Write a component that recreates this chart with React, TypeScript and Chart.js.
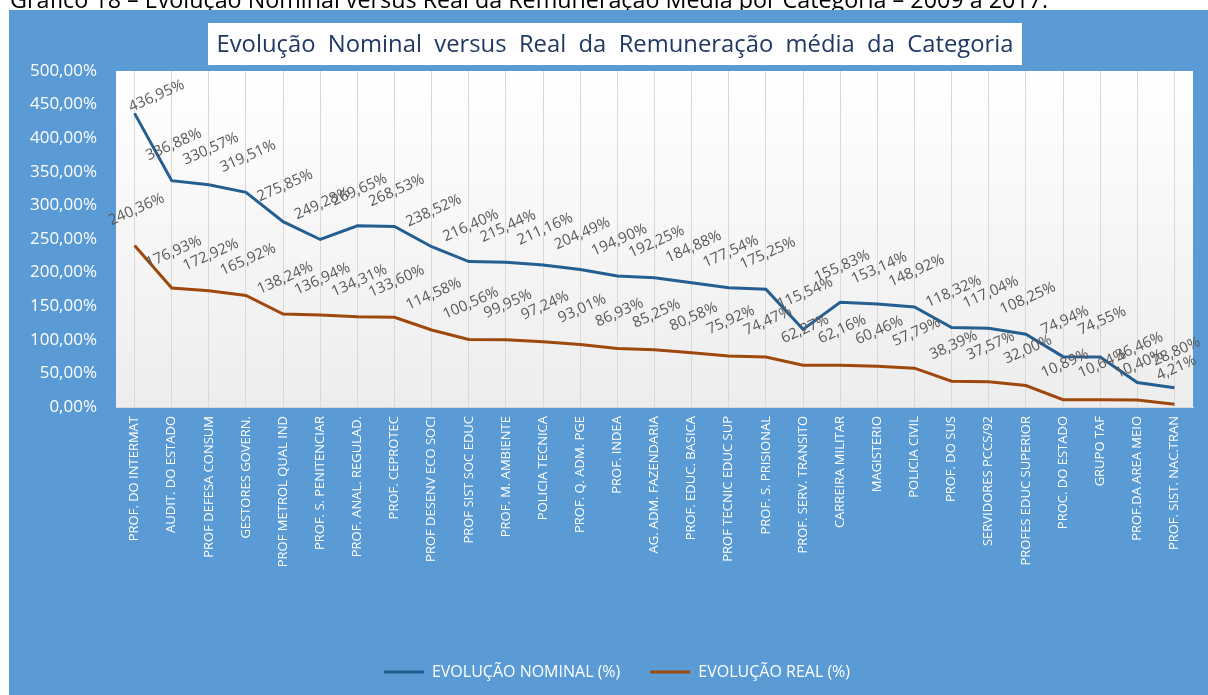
import React, { useEffect, useRef } from "react";
import { Chart, registerables } from "chart.js";

Chart.register(...registerables);

const categories = [
  "PROF. DO INTERMAT",
  "AUDIT. DO ESTADO",
  "PROF DEFESA CONSUM",
  "GESTORES GOVERN.",
  "PROF METROL QUAL IND",
  "PROF. S. PENITENCIAR",
  "PROF. ANAL. REGULAD.",
  "PROF. CEPROTEC",
  "PROF DESENV ECO SOCI",
  "PROF SIST SOC EDUC",
  "PROF. M. AMBIENTE",
  "POLICIA TECNICA",
  "PROF. Q. ADM. PGE",
  "PROF. INDEA",
  "AG. ADM. FAZENDARIA",
  "PROF. EDUC. BASICA",
  "PROF TECNIC EDUC SUP",
  "PROF. S. PRISIONAL",
  "PROF. SERV. TRANSITO",
  "CARREIRA MILITAR",
  "MAGISTERIO",
  "POLICIA CIVIL",
  "PROF. DO SUS",
  "SERVIDORES PCCS/92",
  "PROFES EDUC SUPERIOR",
  "PROC. DO ESTADO",
  "GRUPO TAF",
  "PROF.DA AREA MEIO",
  "PROF. SIST. NAC.TRAN",
];

const nominal = [
  436.95, 336.88, 330.57, 319.51, 275.85, 249.28, 269.65, 268.53, 238.52,
  216.4, 215.44, 211.16, 204.49, 194.9, 192.25, 184.88, 177.54, 175.25,
  115.54, 155.83, 153.14, 148.92, 118.32, 117.04, 108.25, 74.94, 74.55,
  36.46, 28.8,
];

const real = [
  240.36, 176.93, 172.92, 165.92, 138.24, 136.94, 134.31, 133.6, 114.58,
  100.56, 99.95, 97.24, 93.01, 86.93, 85.25, 80.58, 75.92, 74.47, 62.27,
  62.16, 60.46, 57.79, 38.39, 37.57, 32.0, 10.89, 10.64, 10.4, 4.21,
];

const seriesNames = ["EVOLUÇÃO NOMINAL (%)", "EVOLUÇÃO REAL (%)"];
const yMin = 0;
const yMax = 500;
const yStep = 50;

const chartTitle = "Evolução  Nominal  versus  Real  da  Remuneração  média  da  Categoria";
const caption =
  "Gráfico 18 – Evolução Nominal versus Real da Remuneração Média por Categoria – 2009 a 2017.";

const FONT = '"Open Sans", "Noto Sans", sans-serif';

const fmt = (v: number) => v.toFixed(2).replace(".", ",") + "%";

const decorPlugin = {
  id: "decor",
  afterLayout(chart: any) {
    if (chart.legend) {
      chart.legend.left += 16;
      chart.legend.right += 16;
    }
  },
  beforeDraw(chart: any) {
    const { ctx, chartArea, width, height } = chart;
    ctx.save();
    ctx.fillStyle = "#5B9BD5";
    ctx.fillRect(0, 0, width, height);
    const g = ctx.createLinearGradient(0, chartArea.top, 0, chartArea.bottom);
    g.addColorStop(0, "#FFFFFF");
    g.addColorStop(1, "#EDEDED");
    ctx.fillStyle = g;
    ctx.fillRect(
      chartArea.left,
      chartArea.top,
      chartArea.right - chartArea.left,
      chartArea.bottom - chartArea.top
    );
    // title box
    ctx.fillStyle = "#FFFFFF";
    ctx.fillRect(199, 13, 814, 42);
    ctx.fillStyle = "#203864";
    ctx.font = `23.8px ${FONT}`;
    ctx.textAlign = "center";
    ctx.textBaseline = "middle";
    ctx.fillText(chartTitle, 606, 35);
    ctx.restore();
  },
  afterDatasetsDraw(chart: any) {
    const { ctx, chartArea } = chart;
    ctx.save();
    ctx.font = `15px ${FONT}`;
    ctx.fillStyle = "#595959";
    ctx.textAlign = "center";
    ctx.textBaseline = "middle";
    chart.data.datasets.forEach((ds: any, di: number) => {
      const meta = chart.getDatasetMeta(di);
      meta.data.forEach((pt: any, i: number) => {
        const v = ds.data[i];
        let y = pt.y - 36;
        let x = pt.x + 2;
        const minY = chartArea.top + 25;
        if (y < minY) {
          y = minY;
          x = pt.x + 22;
        }
        ctx.save();
        ctx.translate(x, y);
        ctx.rotate((-24 * Math.PI) / 180);
        ctx.fillText(fmt(v), 0, 0);
        ctx.restore();
      });
    });
    ctx.restore();
  },
};

export default function App() {
  const ref = useRef<HTMLCanvasElement | null>(null);

  useEffect(() => {
    if (!ref.current) return;
    const chart = new Chart(ref.current, {
      type: "line",
      data: {
        labels: categories,
        datasets: [
          {
            label: seriesNames[0],
            data: nominal,
            borderColor: "#255E91",
            backgroundColor: "#255E91",
            borderWidth: 3,
            pointRadius: 0,
            tension: 0,
          },
          {
            label: seriesNames[1],
            data: real,
            borderColor: "#9E480E",
            backgroundColor: "#9E480E",
            borderWidth: 3,
            pointRadius: 0,
            tension: 0,
          },
        ],
      },
      options: {
        animation: false,
        responsive: false,
        maintainAspectRatio: false,
        layout: { padding: { top: 61, right: 15, left: 0, bottom: 5 } },
        plugins: {
          title: { display: false },
          tooltip: { enabled: false },
          legend: {
            position: "bottom",
            labels: {
              usePointStyle: true,
              pointStyle: "line",
              pointStyleWidth: 40,
              color: "#FFFFFF",
              font: { family: FONT, size: 16 },
              padding: 30,
            },
          },
        },
        scales: {
          x: {
            offset: true,
            grid: { display: true, drawTicks: false, color: "#D9D9D9", offset: false },
            border: { display: true, color: "#D9D9D9" },
            ticks: {
              color: "#FFFFFF",
              font: { family: FONT, size: 13 },
              maxRotation: 90,
              minRotation: 90,
              autoSkip: false,
              padding: 9,
            },
            afterFit: (scale: any) => {
              scale.height = 227;
            },
          },
          y: {
            min: yMin,
            max: yMax,
            grid: { display: false, drawTicks: false },
            border: { display: false },
            ticks: {
              stepSize: yStep,
              color: "#FFFFFF",
              font: { family: FONT, size: 17 },
              padding: 19,
              callback: (v: any) => fmt(Number(v)),
            },
            afterFit: (scale: any) => {
              scale.width = 107;
            },
          },
        },
      },
      plugins: [decorPlugin],
    });
    return () => chart.destroy();
  }, []);

  return (
    <div>
      <div
        style={{
          position: "fixed",
          left: 10,
          top: -17,
          fontFamily: FONT,
          fontSize: 23.3,
          color: "#000",
          whiteSpace: "nowrap",
          lineHeight: "normal",
        }}
      >
        {caption}
      </div>
      <div style={{ position: "fixed", left: 9, top: 10, width: 1199, height: 685 }}>
        <canvas ref={ref} width={1199} height={685} style={{ display: "block" }} />
      </div>
    </div>
  );
}
